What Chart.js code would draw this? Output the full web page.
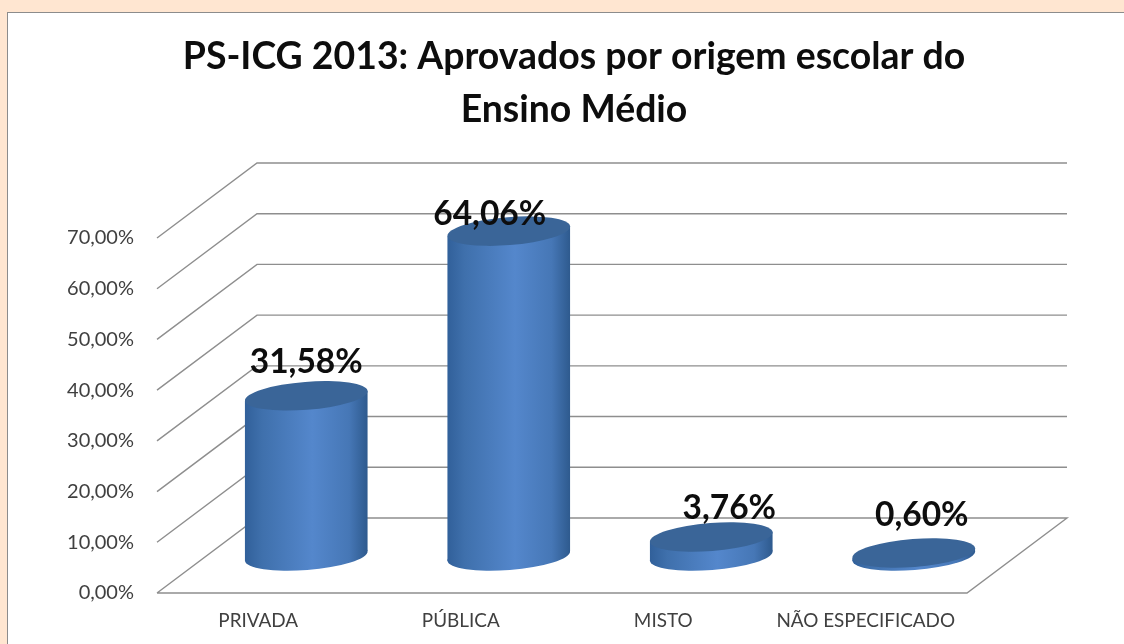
<!DOCTYPE html>
<html><head><meta charset="utf-8">
<script src="https://cdn.jsdelivr.net/npm/chart.js@4"></script>
<style>
html,body{margin:0;padding:0;width:1124px;height:644px;overflow:hidden;background:#FFE6D1}
#frame{position:absolute;left:7px;top:12px;width:1130px;height:650px;background:#fff;border:1.5px solid #8c8c8c;box-sizing:border-box}
#wrap{position:absolute;left:0;top:0;width:1124px;height:644px}
</style></head><body>
<div id="frame"></div>
<div id="wrap"><canvas id="c" width="1124" height="644"></canvas></div>
<script>
const titleLines = ['PS-ICG 2013: Aprovados por origem escolar do', 'Ensino Médio'];
const categories = ['PRIVADA', 'PÚBLICA', 'MISTO', 'NÃO ESPECIFICADO'];
const approved = [31.58, 64.06, 3.76, 0.60];
const valueLabels = ['31,58%', '64,06%', '3,76%', '0,60%'];
const labelShiftX = [0, -19, 18, 8];
const labelShiftY = [-34, -17, -29, -38];

const DEPTH_X = 100, DEPTH_Y = 75;
const BAR_SHIFT_X = 48, BAR_SHIFT_Y = 37;
const RX = 61.5, RY = 14, TILT = -4.5 * Math.PI / 180;
const FONT = 'Lato, Carlito, "Open Sans", sans-serif';

class CylinderBar extends Chart.BarElement {
  static id = 'cylinderBar';
  draw(ctx) {
    const cx = this.x + BAR_SHIFT_X;
    const topY = this.y - BAR_SHIFT_Y;
    const baseY = this.base - BAR_SHIFT_Y;
    const W = Math.sqrt(RX * RX * Math.cos(TILT) ** 2 + RY * RY * Math.sin(TILT) ** 2);
    const t = Math.atan2(RY * Math.sin(TILT), RX * Math.cos(TILT));
    const d = RX * Math.cos(t) * Math.sin(TILT) + RY * Math.sin(t) * Math.cos(TILT);
    const g = ctx.createLinearGradient(cx - W, 0, cx + W, 0);
    g.addColorStop(0, '#31609A');
    g.addColorStop(0.14, '#3F70AC');
    g.addColorStop(0.55, '#5487CC');
    g.addColorStop(0.85, '#4677B6');
    g.addColorStop(1, '#2E5A8E');
    ctx.save();
    ctx.fillStyle = g;
    ctx.beginPath();
    ctx.moveTo(cx - W, topY - d);
    ctx.lineTo(cx + W, topY + d);
    ctx.lineTo(cx + W, baseY + d);
    ctx.lineTo(cx - W, baseY - d);
    ctx.closePath();
    ctx.fill();
    ctx.beginPath();
    ctx.ellipse(cx, baseY, RX, RY, TILT, 0, Math.PI * 2);
    ctx.fill();
    ctx.fillStyle = '#3A6598';
    ctx.beginPath();
    ctx.ellipse(cx, topY, RX, RY, TILT, 0, Math.PI * 2);
    ctx.fill();
    ctx.restore();
  }
}
class CylinderController extends Chart.BarController {
  static id = 'cylinder';
  static defaults = { dataElementType: 'cylinderBar' };
}
Chart.register(CylinderBar, CylinderController);

const walls = {
  id: 'walls',
  beforeDatasetsDraw(chart) {
    const { ctx, chartArea: a, scales: { y } } = chart;
    ctx.save();
    ctx.strokeStyle = '#8E8E8E';
    ctx.lineWidth = 1.4;
    y.ticks.forEach(tick => {
      const py = y.getPixelForValue(tick.value);
      ctx.beginPath();
      ctx.moveTo(a.left, py);
      ctx.lineTo(a.left + DEPTH_X, py - DEPTH_Y);
      ctx.lineTo(a.right + DEPTH_X, py - DEPTH_Y);
      if (tick.value === 0) {
        ctx.lineTo(a.right, py);
        ctx.lineTo(a.left, py);
      }
      ctx.stroke();
    });
    ctx.restore();
  }
};
const barLabels = {
  id: 'barLabels',
  afterDatasetsDraw(chart) {
    const { ctx } = chart;
    const els = chart.getDatasetMeta(0).data;
    ctx.save();
    ctx.font = 'bold 33.5px ' + FONT;
    ctx.fillStyle = '#0d0d0d';
    ctx.textAlign = 'center';
    ctx.textBaseline = 'middle';
    els.forEach((el, i) => {
      ctx.fillText(valueLabels[i], el.x + BAR_SHIFT_X + labelShiftX[i], el.y - BAR_SHIFT_Y + labelShiftY[i]);
    });
    ctx.restore();
  }
};

new Chart(document.getElementById('c'), {
  type: 'cylinder',
  data: { labels: categories, datasets: [{ label: 'Aprovados', data: approved, backgroundColor: '#4F81BD', clip: false }] },
  plugins: [walls, barLabels],
  options: {
    responsive: false,
    animation: false,
    layout: { padding: { left: 24, right: 0, top: 0, bottom: 0 } },
    plugins: {
      legend: { display: false },
      tooltip: { enabled: false },
      title: {
        display: true,
        text: titleLines,
        color: '#0d0d0d',
        font: { family: FONT, size: 37.4, weight: 'bold', lineHeight: 1.417 },
        padding: { top: 30, bottom: 102 }
      }
    },
    scales: {
      x: {
        type: 'category',
        offset: true,
        grid: { display: false, drawTicks: false },
        border: { display: false },
        ticks: { color: '#404040', font: { family: FONT, size: 18.9 }, padding: 17, maxRotation: 0, minRotation: 0, autoSkip: false },
        afterFit(s) { s.height = 51; }
      },
      y: {
        type: 'linear',
        position: 'left',
        min: 0, max: 70,
        grid: { display: false, drawTicks: false },
        border: { display: false },
        ticks: {
          stepSize: 10,
          color: '#404040',
          font: { family: FONT, size: 20 },
          padding: 23,
          callback: v => v.toFixed(2).replace('.', ',') + '%'
        },
        afterFit(s) { s.width = 133; }
      },
      rightSpace: {
        type: 'linear',
        position: 'right',
        grid: { display: false, drawTicks: false },
        border: { display: false },
        ticks: { display: false },
        afterFit(s) { s.width = 157; }
      }
    }
  }
});
</script>
</body></html>
